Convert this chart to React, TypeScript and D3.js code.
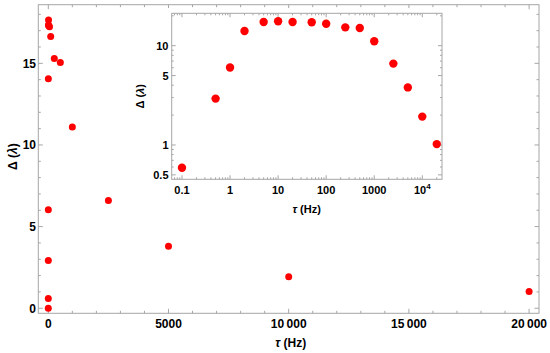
import React from 'react';
import * as d3 from 'd3';

// measured data: frequency (Hz) vs gap Δ (λ)
const freqHz = [0, 0.1, 0.5, 1, 2, 5, 10, 20, 50, 100, 250, 500, 1000, 2500, 5000, 10000, 20000];
const delta = [0, 0.59, 2.93, 6.03, 14.05, 17.35, 17.65, 17.3, 17.24, 16.65, 15.3, 15.05, 11.1, 6.6, 3.8, 1.93, 1.02];

const mainXTicks = [0, 5000, 10000, 15000, 20000];
const mainXLabels = ['0', '5000', '10\u2009000', '15\u2009000', '20\u2009000'];
const mainYTicks = [0, 5, 10, 15];
const insetXTicks = [0.1, 1, 10, 100, 1000, 10000];
const insetXLabels = ['0.1', '1', '10', '100', '1000', '10^4'];
const insetYTicks = [0.5, 1, 5, 10];
const insetYLabels = ['0.5', '1', '5', '10'];

const W = 550;
const H = 353;
const FONT = "'Liberation Sans', Arial, sans-serif";
const FRAME = '#a6a6a6';
const RED = '#ff0000';

function logMinor(domain: number[]) {
  const out: number[] = [];
  for (let e = -3; e <= 6; e++) {
    for (let k = 1; k <= 9; k++) {
      const v = k * Math.pow(10, e);
      if (v >= domain[0] && v <= domain[1]) out.push(v);
    }
  }
  return out;
}

function Frame({ x, y, xMajor, xMinor, yMajor, yMinor, maj, min }: any) {
  const [x0, x1] = x.range();
  const [y0, y1] = y.range(); // y0 bottom, y1 top
  const ticks: any[] = [];
  const add = (vals: number[], len: number, key: string) => {
    vals.forEach((v, i) => {
      const px = x(v);
      ticks.push(<line key={key + 'b' + i} x1={px} x2={px} y1={y0} y2={y0 - len} />);
      ticks.push(<line key={key + 't' + i} x1={px} x2={px} y1={y1} y2={y1 + len} />);
    });
  };
  const addY = (vals: number[], len: number, key: string) => {
    vals.forEach((v, i) => {
      const py = y(v);
      ticks.push(<line key={key + 'l' + i} x1={x0} x2={x0 + len} y1={py} y2={py} />);
      ticks.push(<line key={key + 'r' + i} x1={x1} x2={x1 - len} y1={py} y2={py} />);
    });
  };
  add(xMajor, maj, 'xM');
  add(xMinor, min, 'xm');
  addY(yMajor, maj, 'yM');
  addY(yMinor, min, 'ym');
  return (
    <g stroke={FRAME} strokeWidth={1} fill="none">
      {ticks}
      <rect x={x0} y={y1} width={x1 - x0} height={y0 - y1} />
    </g>
  );
}

export default function App() {
  // main linear plot
  const x = d3.scaleLinear().domain([-416, 20412]).range([38.3, 539]);
  const y = d3.scaleLinear().domain([-0.31, 18.59]).range([313.3, 4.7]);
  const xMinor = d3.range(0, 20001, 1000).filter((v) => v % 5000 !== 0);
  const yMinor = d3.range(0, 19, 1).filter((v) => v % 5 !== 0);

  // inset log-log plot
  const ix = d3.scaleLog().domain([0.0611, 25700]).range([171.7, 442]);
  const iy = d3.scaleLog().domain([0.451, 21.2]).range([179.3, 13.3]);
  const ixMinor = logMinor(ix.domain()).filter((v) => !insetXTicks.includes(v));
  const iyMinor = logMinor(iy.domain()).filter((v) => !insetYTicks.includes(v));

  const pts = freqHz.map((f, i) => ({ f, d: delta[i] }));
  const insetPts = pts.filter((p) => p.f > 0);

  return (
    <svg
      width={W}
      height={H}
      style={{ position: 'fixed', left: 0, top: 0, background: '#fff' }}
      fontFamily={FONT}
      fontWeight="bold"
    >
      <rect width={W} height={H} fill="#fff" />
      <Frame x={x} y={y} xMajor={mainXTicks} xMinor={xMinor} yMajor={mainYTicks} yMinor={yMinor} maj={4.5} min={2.5} />
      {mainXTicks.map((t, i) => (
        <text key={'mx' + i} x={x(t)} y={327.5} textAnchor="middle" fontSize={12}>
          {mainXLabels[i]}
        </text>
      ))}
      {mainYTicks.map((t, i) => (
        <text key={'my' + i} x={36} y={y(t) + 4.3} textAnchor="end" fontSize={12}>
          {t}
        </text>
      ))}
      <text x={290.7} y={347} textAnchor="middle" fontSize={12}>
        <tspan fontStyle="italic">τ</tspan> (Hz)
      </text>
      <text transform="translate(17,156.7) rotate(-90)" textAnchor="middle" fontSize={12}>
        Δ (<tspan fontStyle="italic">λ</tspan>)
      </text>
      {pts.map((p, i) => (
        <circle key={'p' + i} cx={x(p.f)} cy={y(p.d)} r={3.5} fill={RED} />
      ))}

      {/* inset */}
      <rect x={130} y={8} width={318} height={210} fill="#fff" />
      <Frame x={ix} y={iy} xMajor={insetXTicks} xMinor={ixMinor} yMajor={insetYTicks} yMinor={iyMinor} maj={4} min={2} />
      {insetXTicks.map((t, i) => (
        <text key={'ix' + i} x={ix(t)} y={193.5} textAnchor="middle" fontSize={11}>
          {insetXLabels[i] === '10^4' ? (
            <>
              10<tspan dy={-5} fontSize={8}>4</tspan>
            </>
          ) : (
            insetXLabels[i]
          )}
        </text>
      ))}
      {insetYTicks.map((t, i) => (
        <text key={'iy' + i} x={168.5} y={iy(t) + 4} textAnchor="end" fontSize={11}>
          {insetYLabels[i]}
        </text>
      ))}
      <text x={306.7} y={212.5} textAnchor="middle" fontSize={11}>
        <tspan fontStyle="italic">τ</tspan> (Hz)
      </text>
      <text transform="translate(144,96.3) rotate(-90)" textAnchor="middle" fontSize={11}>
        Δ (<tspan fontStyle="italic">λ</tspan>)
      </text>
      {insetPts.map((p, i) => (
        <circle key={'ip' + i} cx={ix(p.f)} cy={iy(p.d)} r={4.2} fill={RED} />
      ))}
    </svg>
  );
}
